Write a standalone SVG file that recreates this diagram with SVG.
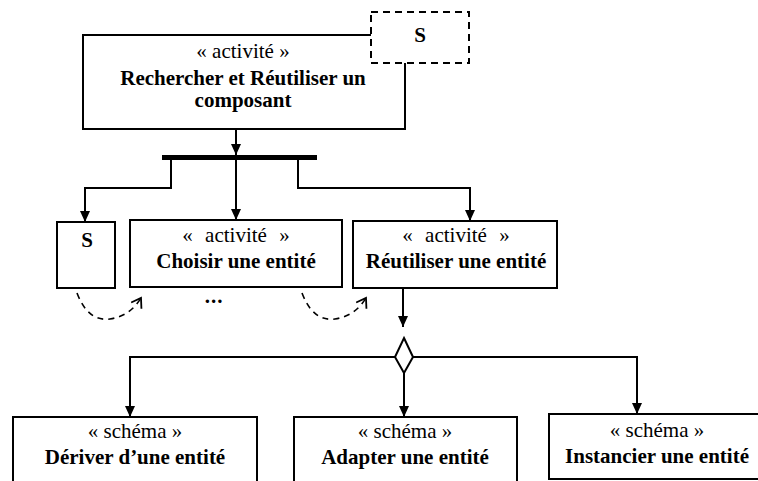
<svg xmlns="http://www.w3.org/2000/svg" width="758" height="481" viewBox="0 0 758 481">
<style>
.box{fill:#fff;stroke:#000;stroke-width:2}
.dash{fill:#fff;stroke:#000;stroke-width:2;stroke-dasharray:7,5}
.ln{fill:none;stroke:#000;stroke-width:2}
.dl{fill:none;stroke:#000;stroke-width:1.6;stroke-dasharray:6,5}
.t{font-family:'Liberation Serif',serif;font-size:21px;text-anchor:middle;fill:#000}
.b{font-weight:bold}
</style>
<defs>
<marker id="ah" markerUnits="userSpaceOnUse" markerWidth="12" markerHeight="12" refX="11" refY="6" orient="auto">
<path d="M0,1 L11,6 L0,11 Z" fill="#000"/>
</marker>
<marker id="oh" markerUnits="userSpaceOnUse" markerWidth="14" markerHeight="14" refX="11" refY="7" orient="auto">
<path d="M2,1 L11,7 L2,13" fill="none" stroke="#000" stroke-width="1.8"/>
</marker>
</defs>

<g id="connectors">
<path class="ln" d="M236,129 V155" marker-end="url(#ah)"/>
<rect x="162" y="155" width="155" height="5" fill="#000"/>
<path class="ln" d="M171,160 V188 H85 V222" marker-end="url(#ah)"/>
<path class="ln" d="M236,160 V220" marker-end="url(#ah)"/>
<path class="ln" d="M298,160 V188 H470 V221" marker-end="url(#ah)"/>
<path class="ln" d="M403,288 V327" marker-end="url(#ah)"/>
<path class="ln" d="M395,357 H130 V417" marker-end="url(#ah)"/>
<path class="ln" d="M413,357 H637 V414" marker-end="url(#ah)"/>
<path class="ln" d="M404,373 V417" marker-end="url(#ah)"/>
<path class="dl" d="M77,293 Q88,322 110,319 Q130,316 141,298" marker-end="url(#oh)"/>
<path class="dl" d="M302,293 Q313,322 335,319 Q355,316 366,298" marker-end="url(#oh)"/>
</g>

<g id="decision">
<polygon class="box" points="404,338 413,357 404,373 395,357"/>
</g>

<g id="rechercher">
<rect class="box" x="83" y="35" width="322" height="94"/>
<text class="t" x="243" y="58">« activité »</text>
<text class="t b" x="243" y="85">Rechercher et Réutiliser un</text>
<text class="t b" x="243" y="107">composant</text>
</g>

<g id="s-top">
<rect class="dash" x="371" y="12" width="98" height="51"/>
<text class="t b" x="420" y="42">S</text>
</g>

<g id="s-left">
<rect class="box" x="57" y="222" width="58" height="66"/>
<text class="t b" x="87" y="247">S</text>
</g>

<g id="choisir">
<rect class="box" x="130" y="220" width="212" height="67"/>
<text class="t" x="236" y="242" word-spacing="7">« activité »</text>
<text class="t b" x="236" y="268">Choisir une entité</text>
</g>

<g id="dots">
<text class="t b" x="214" y="303" font-size="30" letter-spacing="1">...</text>
</g>

<g id="reutiliser">
<rect class="box" x="353" y="221" width="204" height="67"/>
<text class="t" x="456" y="242" word-spacing="7">« activité »</text>
<text class="t b" x="456" y="268">Réutiliser une entité</text>
</g>

<g id="deriver">
<rect class="box" x="13" y="417" width="244" height="70"/>
<text class="t" x="135" y="438">« schéma »</text>
<text class="t b" x="135" y="464">Dériver d’une entité</text>
</g>

<g id="adapter">
<rect class="box" x="294" y="417" width="223" height="70"/>
<text class="t" x="405" y="438">« schéma »</text>
<text class="t b" x="405" y="464">Adapter une entité</text>
</g>

<g id="instancier">
<rect class="box" x="549" y="414" width="215" height="65"/>
<text class="t" x="657" y="437">« schéma »</text>
<text class="t b" x="657" y="463">Instancier une entité</text>
</g>
</svg>
